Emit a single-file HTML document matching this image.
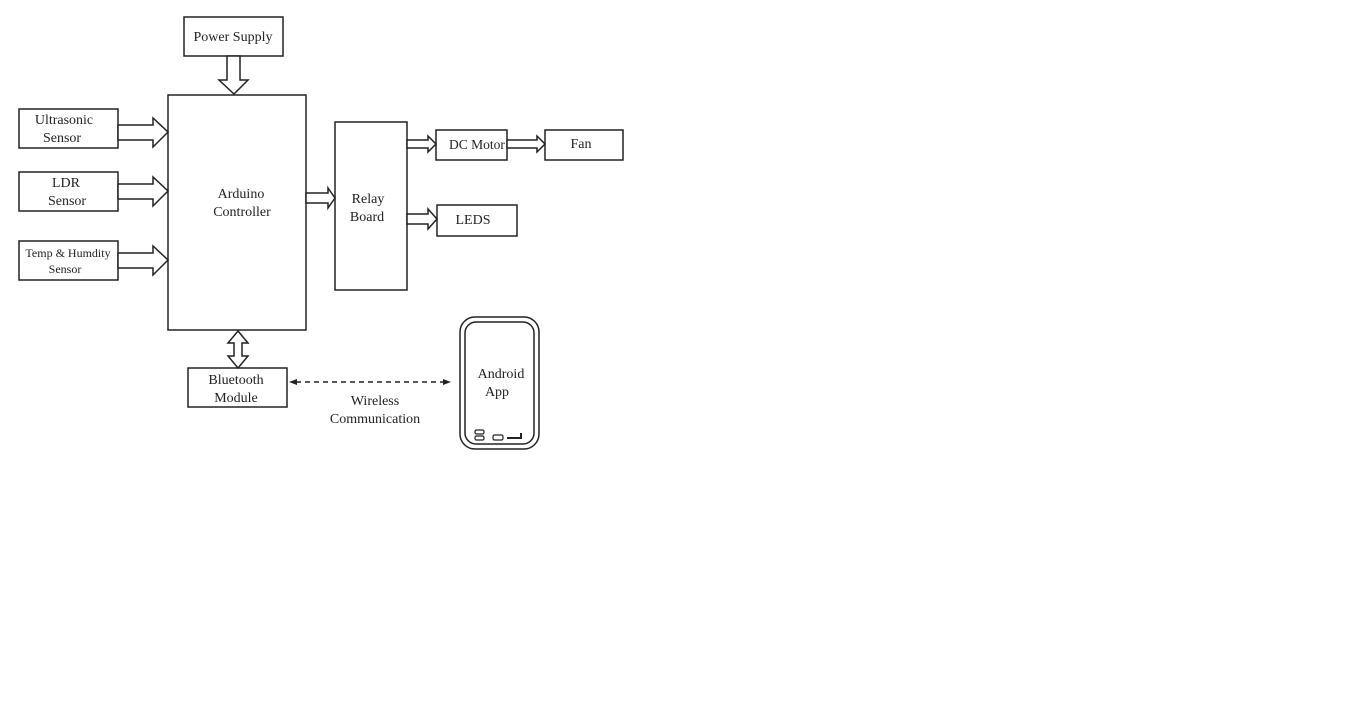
<!DOCTYPE html>
<html><head><meta charset="utf-8"><style>
html,body{margin:0;padding:0;background:#fff;}
svg{display:block}
text{font-family:"Liberation Serif",serif;fill:#222;}
</style></head><body>
<svg width="1366" height="728" viewBox="0 0 1366 728" xmlns="http://www.w3.org/2000/svg">
<g fill="#fff" stroke="#222" stroke-width="1.5">
<rect x="184" y="17" width="99" height="39"/>
<rect x="168" y="95" width="138" height="235"/>
<rect x="19" y="109" width="99" height="39"/>
<rect x="19" y="172" width="99" height="39"/>
<rect x="19" y="241" width="99" height="39"/>
<rect x="335" y="122" width="72" height="168"/>
<rect x="436" y="130" width="71" height="30"/>
<rect x="545" y="130" width="78" height="30"/>
<rect x="437" y="205" width="80" height="31"/>
<rect x="188" y="368" width="99" height="39"/>
<rect x="460" y="317" width="79" height="132" rx="15"/>
<rect x="465" y="322" width="69" height="122" rx="11"/>
<polygon points="227,56 240,56 240,80 248,80 234,94 219,80 227,80"/>
<polygon points="118,125 153,125 153,118 168,132 153,147 153,140 118,140"/>
<polygon points="118,184 153,184 153,177 168,191 153,206 153,199 118,199"/>
<polygon points="118,253 153,253 153,246 168,260 153,275 153,268 118,268"/>
<polygon points="306,193 328,193 328,188 335,198 328,208 328,203 306,203"/>
<polygon points="407,140 428,140 428,136 436,144 428,152 428,148 407,148"/>
<polygon points="507,140 537,140 537,136 545,144 537,152 537,148 507,148"/>
<polygon points="407,214 428,214 428,209 437,219 428,229 428,224 407,224"/>
<polygon points="238,331 248,343 242,343 242,356 248,356 238,368 228,356 234,356 234,343 228,343"/>
<rect x="475" y="430" width="9" height="4" rx="1.5" stroke-width="1.2"/>
<rect x="475" y="436" width="9" height="4" rx="1.5" stroke-width="1.2"/>
<rect x="493" y="435" width="10" height="5" rx="1.5" stroke-width="1.2"/>
</g>
<path d="M507,438 L521,438 L521,433" fill="none" stroke="#222" stroke-width="2"/>
<line x1="296" y1="382" x2="444" y2="382" stroke="#222" stroke-width="1.6" stroke-dasharray="5,4"/>
<polygon points="289,382 297,379 297,385" fill="#222"/>
<polygon points="451,382 443,379 443,385" fill="#222"/>
<g font-size="14" text-anchor="middle">
<text x="233" y="41">Power Supply</text>
<text x="64" y="124">Ultrasonic</text>
<text x="62" y="142">Sensor</text>
<text x="66" y="187">LDR</text>
<text x="67" y="205">Sensor</text>
<text x="68" y="257" font-size="12">Temp &amp; Humdity</text>
<text x="65" y="273" font-size="12">Sensor</text>
<text x="241" y="198">Arduino</text>
<text x="242" y="216">Controller</text>
<text x="368" y="203">Relay</text>
<text x="367" y="221">Board</text>
<text x="477" y="149" font-size="13.5">DC Motor</text>
<text x="581" y="148">Fan</text>
<text x="473" y="224">LEDS</text>
<text x="236" y="384">Bluetooth</text>
<text x="236" y="402">Module</text>
<text x="375" y="405">Wireless</text>
<text x="375" y="423">Communication</text>
<text x="501" y="378">Android</text>
<text x="497" y="396">App</text>
</g>
</svg>
</body></html>
